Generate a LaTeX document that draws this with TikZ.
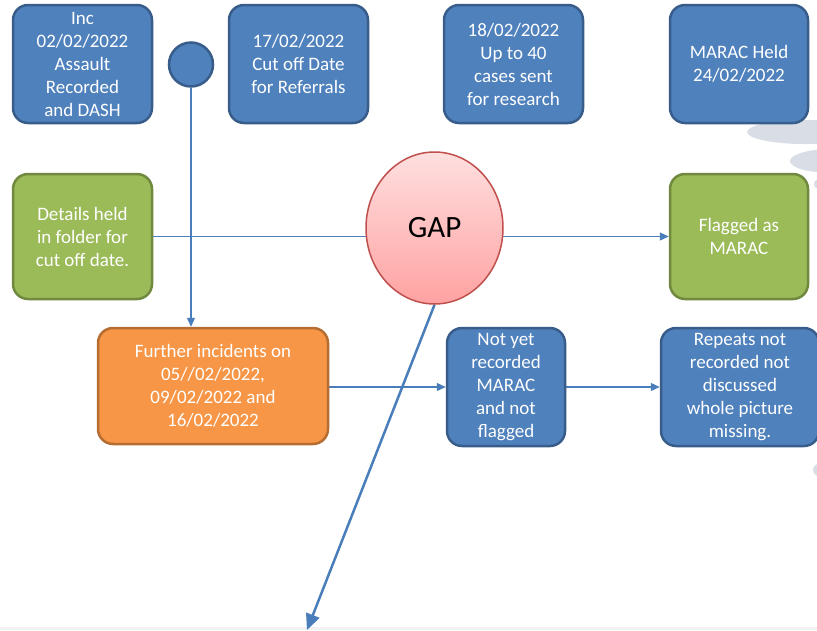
\documentclass[tikz,border=0pt]{standalone}
\usepackage{fontspec}
\setmainfont{Carlito}
\usetikzlibrary{shapes.geometric,arrows.meta}
\definecolor{bluefill}{HTML}{4F81BD}
\definecolor{blueedge}{HTML}{385D8A}
\definecolor{greenfill}{HTML}{9BBB59}
\definecolor{greenedge}{HTML}{71893F}
\definecolor{orangefill}{HTML}{F79646}
\definecolor{orangeedge}{HTML}{B66D31}
\definecolor{linkcol}{HTML}{4A7EBB}
\definecolor{gapedge}{HTML}{C0504D}
\definecolor{gaptop}{HTML}{FFDFDF}
\definecolor{gapbot}{HTML}{FFA2A2}
\definecolor{ghost}{HTML}{D9DEE6}
\pgfdeclarelayer{deep}
\pgfdeclarelayer{background}
\pgfsetlayers{deep,background,main}
\tikzset{
  box/.style={draw, rounded corners=15pt, line width=2.5pt, inner sep=0pt,
    align=center, text=white, font=\fontsize{19}{23}\selectfont},
  bluebox/.style={box, fill=bluefill, draw=blueedge},
  greenbox/.style={box, fill=greenfill, draw=greenedge},
  orangebox/.style={box, fill=orangefill, draw=orangeedge},
  link/.style={draw=linkcol, line width=1.2pt, -{Triangle[length=9pt,width=8pt]}},
  biglink/.style={draw=linkcol, line width=2.5pt, -{Triangle[length=16pt,width=14pt]}},
}
\begin{document}
\begin{tikzpicture}[x=1pt,y=-1pt]
\useasboundingbox (0,0) rectangle (817,630);
\begin{pgfonlayer}{deep}
\fill[white] (0,0) rectangle (817,630);
\fill[ghost] (805,132) ellipse [x radius=58, y radius=12];
\fill[ghost] (832,161) ellipse [x radius=42, y radius=12];
\fill[ghost] (822,184) ellipse [x radius=8, y radius=6];
\fill[ghost] (822,470) ellipse [x radius=9, y radius=7];
\fill[black!5] (0,627) rectangle (817,630);
\end{pgfonlayer}

\node[bluebox, minimum width=139, minimum height=118] (inc) at (82.5,64) {Inc\\02/02/2022\\Assault\\Recorded\\and DASH};
\node[circle, draw=blueedge, fill=bluefill, line width=2.5pt, minimum size=44, inner sep=0pt] (dot) at (191,64.5) {};
\node[bluebox, minimum width=139, minimum height=118] (cutoff) at (298.5,64) {17/02/2022\\Cut off Date\\for Referrals};
\node[bluebox, minimum width=139, minimum height=118] (research) at (513.5,64) {18/02/2022\\Up to 40\\cases sent\\for research};
\node[bluebox, minimum width=138, minimum height=118] (held) at (739,64) {MARAC Held\\24/02/2022};

\node[greenbox, minimum width=139, minimum height=125] (details) at (82.5,236.5) {Details held\\in folder for\\cut off date.};
\node[greenbox, minimum width=138, minimum height=125] (flagged) at (739,236.5) {Flagged as\\MARAC};

\node[ellipse, draw=gapedge, line width=1.5pt, top color=gaptop, bottom color=gapbot,
  minimum width=137, minimum height=152, inner sep=0pt, font=\fontsize{31}{36}\selectfont] (gap) at (434.5,228) {GAP};

\node[orangebox, minimum width=230, minimum height=116] (further) at (213,386) {Further incidents on\\05//02/2022,\\09/02/2022 and\\16/02/2022};
\node[bluebox, minimum width=118, minimum height=118] (notyet) at (506,387) {Not yet\\recorded\\MARAC\\and not\\flagged};
\node[bluebox, minimum width=158, minimum height=118] (repeats) at (740,387) {Repeats not\\recorded not\\discussed\\whole picture\\missing.};

\coordinate (lost) at (307,630);

\begin{pgfonlayer}{background}
\draw[link] (dot.south) -- (dot.south |- further.north);
\draw[link] (details.east) -- (flagged.west);
\draw[link] (further.east |- notyet.west) -- (notyet.west);
\draw[link] (notyet.east) -- (repeats.west);
\draw[biglink] (gap.south) -- (lost);
\end{pgfonlayer}
\end{tikzpicture}
\end{document}
